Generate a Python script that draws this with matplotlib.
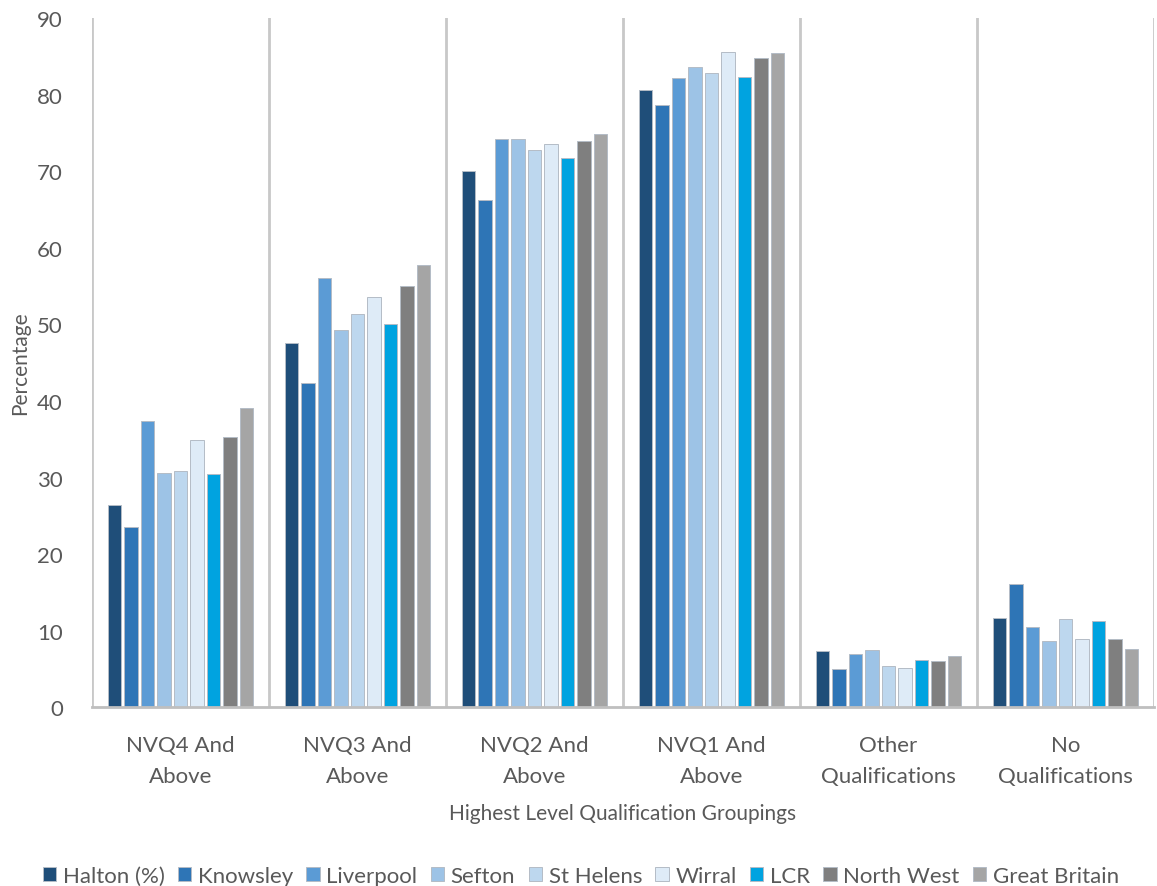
import matplotlib
matplotlib.use("Agg")
import matplotlib.pyplot as plt
import numpy as np

plt.rcParams['font.family'] = ['Lato', 'DejaVu Sans']

# Highest qualification level by area (%)
groups = ['NVQ4 And\nAbove', 'NVQ3 And\nAbove', 'NVQ2 And\nAbove',
          'NVQ1 And\nAbove', 'Other\nQualifications', 'No\nQualifications']
areas = ['Halton (%)', 'Knowsley', 'Liverpool', 'Sefton', 'St Helens',
         'Wirral', 'LCR', 'North West', 'Great Britain']

halton = [26.4, 47.5, 70.0, 80.6, 7.3, 11.7]
knowsley = [23.6, 42.4, 66.2, 78.7, 5.0, 16.1]
liverpool = [37.4, 56.0, 74.2, 82.2, 7.0, 10.5]
sefton = [30.6, 49.3, 74.2, 83.6, 7.5, 8.7]
st_helens = [30.9, 51.3, 72.7, 82.8, 5.4, 11.5]
wirral = [34.9, 53.6, 73.5, 85.6, 5.1, 8.9]
lcr = [30.5, 50.1, 71.7, 82.3, 6.2, 11.2]
north_west = [35.3, 55.0, 74.0, 84.8, 6.0, 8.9]
great_britain = [39.1, 57.8, 74.8, 85.4, 6.7, 7.6]

series = [halton, knowsley, liverpool, sefton, st_helens, wirral,
          lcr, north_west, great_britain]
colors = ['#1F4E79', '#2E75B6', '#5B9BD5', '#9DC3E6', '#BDD7EE',
          '#DEEBF7', '#00A3E0', '#7F7F7F', '#A5A5A5']

text_col = '#595959'
grid_col = '#C8C8C8'

fig = plt.figure(figsize=(11.57, 8.87), dpi=100)
ax = fig.add_axes([0.0795, 0.2015, 0.9179, 0.7771])

x = np.arange(len(groups))
slot = 0.093
width = 0.077
for i, (vals, c) in enumerate(zip(series, colors)):
    offs = (i - (len(series) - 1) / 2) * slot
    ax.bar(x + offs, vals, width, color=c, label=areas[i],
           edgecolor='#B4BCC6', linewidth=0.7)

# category separators
for b in np.arange(-0.5, len(groups) + 0.5, 1.0):
    ax.axvline(b, color=grid_col, linewidth=2, zorder=0)

ax.set_xlim(-0.5, len(groups) - 0.5)
ax.set_ylim(0, 90)
ax.set_yticks(np.arange(0, 91, 10))
ax.set_xticks(x)
ax.set_xticklabels(groups, fontsize=16, color=text_col, linespacing=1.7)
ax.tick_params(axis='y', length=0, labelsize=16, labelcolor=text_col, pad=21)
ax.tick_params(axis='x', length=0, pad=20)

for s in ['top', 'right', 'left']:
    ax.spines[s].set_visible(False)
ax.spines['bottom'].set_color('#BFBFBF')
ax.spines['bottom'].set_linewidth(2)

ax.set_xlabel('Highest Level Qualification Groupings', fontsize=15,
              color=text_col, labelpad=12)
ax.set_ylabel('Percentage', fontsize=15, color=text_col, labelpad=5)

fig.legend(loc='lower center', bbox_to_anchor=(0.502, -0.022), ncol=9,
           frameon=False, fontsize=16, handlelength=0.6, handleheight=0.6,
           handletextpad=0.3, columnspacing=0.6, labelcolor=text_col)

fig.savefig('out.png', dpi=100)
